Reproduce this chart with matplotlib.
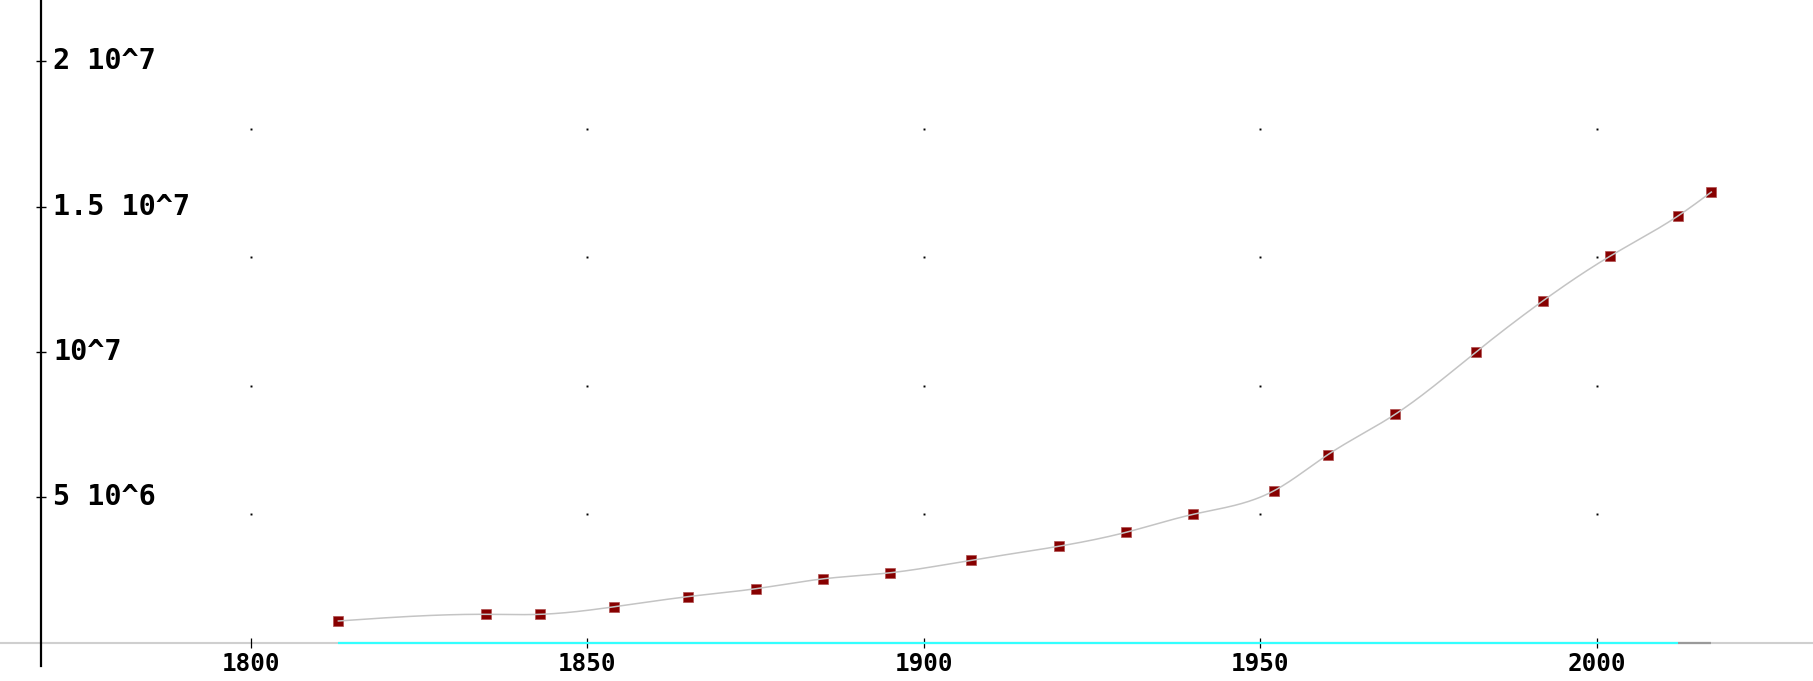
import numpy as np
import matplotlib
matplotlib.use("Agg")
import matplotlib.pyplot as plt

# ---------------- data ----------------
years = [1813, 1835, 1843, 1854, 1865, 1875, 1885, 1895, 1907, 1920,
         1930, 1940, 1952, 1960, 1970, 1982, 1992, 2002, 2012, 2017]
population = [0.74e6, 0.97e6, 0.97e6, 1.23e6, 1.58e6, 1.85e6, 2.19e6, 2.40e6,
              2.83e6, 3.31e6, 3.79e6, 4.41e6, 5.22e6, 6.46e6, 7.85e6, 9.99e6,
              11.76e6, 13.30e6, 14.67e6, 15.50e6]
x_ticks = [1800, 1850, 1900, 1950, 2000]
x_tick_labels = ["1800", "1850", "1900", "1950", "2000"]
y_ticks = [5e6, 1e7, 1.5e7, 2e7]
y_tick_labels = ["5 10^6", "10^7", "1.5 10^7", "2 10^7"]

# ---------------- layout ----------------
W, H, DPI = 1813, 681, 100
px_per_year = 336.5 / 50.0
val_per_px = 5e6 / 145.3
x_min = 1800 - 250.9 / px_per_year
x_max = x_min + W / px_per_year
y_min = -(H - 642.5) * val_per_px
y_max = 642.5 * val_per_px
yaxis_year = x_min + 41 / px_per_year


def natural_spline(x, y, n=600):
    x = np.asarray(x, float)
    y = np.asarray(y, float)
    m = len(x)
    h = np.diff(x)
    A = np.zeros((m, m))
    b = np.zeros(m)
    A[0, 0] = 1
    A[-1, -1] = 1
    for i in range(1, m - 1):
        A[i, i - 1] = h[i - 1]
        A[i, i] = 2 * (h[i - 1] + h[i])
        A[i, i + 1] = h[i]
        b[i] = 3 * ((y[i + 1] - y[i]) / h[i] - (y[i] - y[i - 1]) / h[i - 1])
    c = np.linalg.solve(A, b)
    xs = np.linspace(x[0], x[-1], n)
    idx = np.clip(np.searchsorted(x, xs) - 1, 0, m - 2)
    dx = xs - x[idx]
    hi = h[idx]
    bi = (y[idx + 1] - y[idx]) / hi - hi * (2 * c[idx] + c[idx + 1]) / 3
    di = (c[idx + 1] - c[idx]) / (3 * hi)
    ys = y[idx] + bi * dx + c[idx] * dx ** 2 + di * dx ** 3
    return xs, ys


fig = plt.figure(figsize=(W / DPI, H / DPI), dpi=DPI)
ax = fig.add_axes([0, 0, 1, 1])
ax.set_xlim(x_min, x_max)
ax.set_ylim(y_min, y_max)
ax.set_facecolor("white")

# spines
for s in ["top", "right"]:
    ax.spines[s].set_visible(False)
ax.spines["bottom"].set_position(("data", 0))
ax.spines["bottom"].set_color("none")
ax.spines["left"].set_position(("data", yaxis_year))
ax.spines["left"].set_color("black")
ax.spines["left"].set_linewidth(1.6)
ax.spines["left"].set_bounds(-(666 - 642.5) * val_per_px, y_max)

# horizontal axis line (gray) with cyan and dark segments
ax.axhline(0, color="#cfcfcf", lw=1.5, zorder=1)
ax.plot([years[0], years[-2]], [0, 0], color="#33ffff", lw=1.6, zorder=2,
        solid_capstyle="butt")
ax.plot([years[-2], years[-1]], [0, 0], color="#9a9a9a", lw=1.6, zorder=2,
        solid_capstyle="butt")

# x ticks
ax.set_xticks(x_ticks)
ax.set_xticklabels(x_tick_labels, family="DejaVu Sans Mono", fontweight="bold",
                   fontsize=17.5)
ax.tick_params(axis="x", direction="inout", length=7.2, width=0.9,
               color="black", pad=3.5)

# y ticks (labels drawn to the right of the axis)
ax.set_yticks(y_ticks)
ax.set_yticklabels([])
ax.tick_params(axis="y", direction="inout", length=6.5, width=1.0,
               color="black")
for v, lab in zip(y_ticks, y_tick_labels):
    ax.annotate(lab, xy=(yaxis_year, v), xytext=(12, 0),
                textcoords="offset pixels", ha="left", va="center",
                family="DejaVu Sans Mono", fontweight="bold", fontsize=20.5)

# grid dots
grid_y = [y_max * k / 5 for k in range(1, 5)]
gx, gy = np.meshgrid(x_ticks, grid_y)
ax.plot(gx.ravel(), gy.ravel(), linestyle="none", marker="s", markersize=1.4,
        color="black", markeredgewidth=0, zorder=2)

# data points and smooth curve
ax.plot(years, population, linestyle="none", marker="s", markersize=6.6,
        color="#870000", markeredgecolor="#b05050", markeredgewidth=0.5,
        zorder=3)
sx, sy = natural_spline(years, population)
ax.plot(sx, sy, color="#c4c4c4", lw=1.1, zorder=4)

fig.savefig("out.png", dpi=DPI)
